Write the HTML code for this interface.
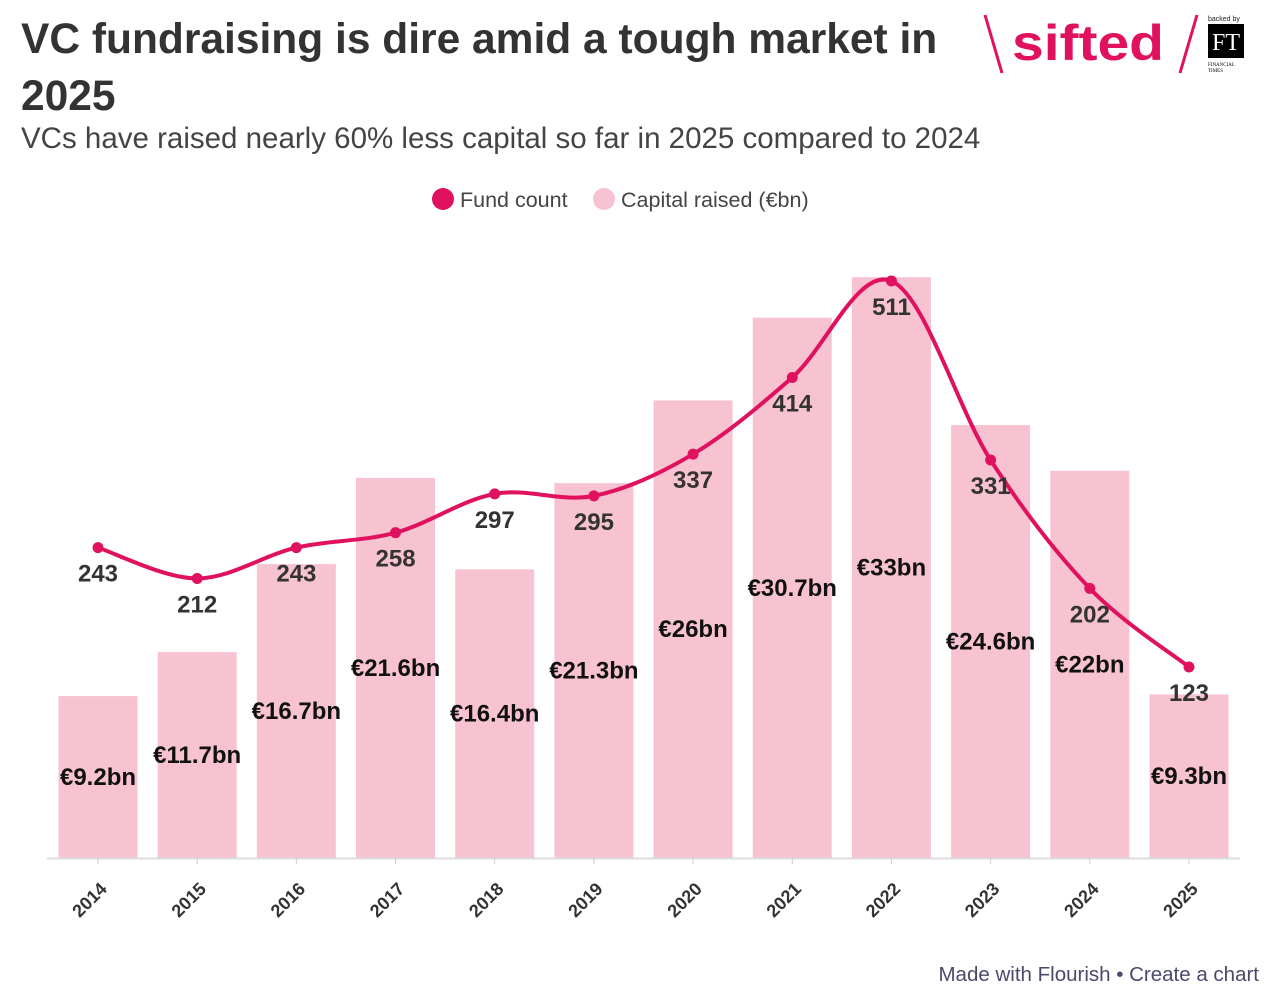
<!DOCTYPE html>
<html><head><meta charset="utf-8"><style>
body{margin:0;width:1283px;height:1000px;background:#fff;font-family:"Liberation Sans",sans-serif;overflow:hidden;position:relative}
#title{position:absolute;left:21px;top:11px;width:960px;font-size:42.5px;font-weight:bold;color:#333;line-height:57px;margin:0}
#sub{position:absolute;left:21px;top:122px;font-size:29.5px;color:#444}
#foot{position:absolute;right:24px;top:963px;font-size:20.5px;color:#4a4a6a}
</style></head><body>
<h1 id="title">VC fundraising is dire amid a tough market in 2025</h1>
<div id="sub">VCs have raised nearly 60% less capital so far in 2025 compared to 2024</div>
<svg style="position:absolute;left:975px;top:10px" width="290" height="70">
<line x1="10" y1="5" x2="27" y2="63" stroke="#e0115f" stroke-width="3"/>
<text x="37" y="50" font-size="50" font-weight="bold" fill="#e0115f" font-family="Liberation Sans,sans-serif" textLength="152" lengthAdjust="spacingAndGlyphs">sifted</text>
<line x1="222" y1="5" x2="205" y2="63" stroke="#e0115f" stroke-width="3"/>
<text x="233" y="11" font-size="7" fill="#222">backed by</text>
<rect x="233" y="14" width="36" height="34" fill="#000"/>
<text x="251" y="40" font-size="24" fill="#fff" text-anchor="middle" font-family="Liberation Serif,serif">FT</text>
<text x="233" y="56" font-size="5" fill="#000" font-family="Liberation Serif,serif">FINANCIAL</text>
<text x="233" y="62" font-size="5" fill="#000" font-family="Liberation Serif,serif">TIMES</text>
</svg>
<svg id="chart" width="1283" height="1000" style="position:absolute;left:0;top:0"></svg>
<div id="foot">Made with Flourish • Create a chart</div>
<script>
const years=["2014","2015","2016","2017","2018","2019","2020","2021","2022","2023","2024","2025"];
const capital=[9.2,11.7,16.7,21.6,16.4,21.3,26,30.7,33,24.6,22,9.3];
const capitalLabels=["€9.2bn","€11.7bn","€16.7bn","€21.6bn","€16.4bn","€21.3bn","€26bn","€30.7bn","€33bn","€24.6bn","€22bn","€9.3bn"];
const funds=[243,212,243,258,297,295,337,414,511,331,202,123];
const NS="http://www.w3.org/2000/svg";
const svg=document.getElementById('chart');
function mk(t,a,p){const e=document.createElementNS(NS,t);for(const k in a)e.setAttribute(k,a[k]);(p||svg).appendChild(e);return e;}
const base=858;
const xS=i=>98+i*99.18;
const yB=v=>base-v*17.6;
const yL=v=>667-(v-123)*0.995;
let g=mk('g',{});


let c=mk('circle',{cx:443,cy:199,r:11,fill:'#e0115f'},g);


let t=mk('text',{x:460,y:207,'font-size':21.5,fill:'#444'},g);t.textContent='Fund count';


c=mk('circle',{cx:604,cy:199,r:11,fill:'#f8c3d0'},g);


t=mk('text',{x:621,y:207,'font-size':21.5,fill:'#444'},g);t.textContent='Capital raised (€bn)';


capital.forEach((v,i)=>{
 const r=mk('rect',{x:xS(i)-39.5,y:yB(v),width:79,height:base-yB(v),fill:'#f8c3d0'});
 
 
 const l=mk('text',{x:xS(i),y:(yB(v)+base)/2+8,'font-size':24,'font-weight':'bold','text-anchor':'middle',fill:'#111'});
 l.textContent=capitalLabels[i];
 
 
});
const ax=mk('line',{x1:47,x2:1240,y1:base+0.5,y2:base+0.5,stroke:'#ddd','stroke-width':2});


years.forEach((y,i)=>{
 const tk=mk('line',{x1:xS(i),x2:xS(i),y1:base,y2:base+6,stroke:'#ccc'});
 
 
 const l=mk('text',{x:xS(i)+10,y:base+32,'font-size':18,'font-weight':'bold','text-anchor':'end',fill:'#333',transform:`rotate(-45 ${xS(i)+10} ${base+32})`});
 l.textContent=y;
 
 
});
const pts=funds.map((v,i)=>[xS(i),yL(v)]);
let d='M'+pts[0][0]+','+pts[0][1];
for(let i=0;i<pts.length-1;i++){
 const p0=pts[i-1]||pts[i],p1=pts[i],p2=pts[i+1],p3=pts[i+2]||p2;
 const k=6;
 d+=` C${p1[0]+(p2[0]-p0[0])/k},${p1[1]+(p2[1]-p0[1])/k} ${p2[0]-(p3[0]-p1[0])/k},${p2[1]-(p3[1]-p1[1])/k} ${p2[0]},${p2[1]}`;
}
const ln=mk('path',{d:d,fill:'none',stroke:'#e0115f','stroke-width':4});


funds.forEach((v,i)=>{
 const p=mk('circle',{cx:xS(i),cy:yL(v),r:5.5,fill:'#e0115f'});
 
 
 const l=mk('text',{x:xS(i),y:yL(v)+34,'font-size':24,'font-weight':'bold','text-anchor':'middle',fill:'#333'});
 l.textContent=v;
 
 
});
</script>
</body></html>
